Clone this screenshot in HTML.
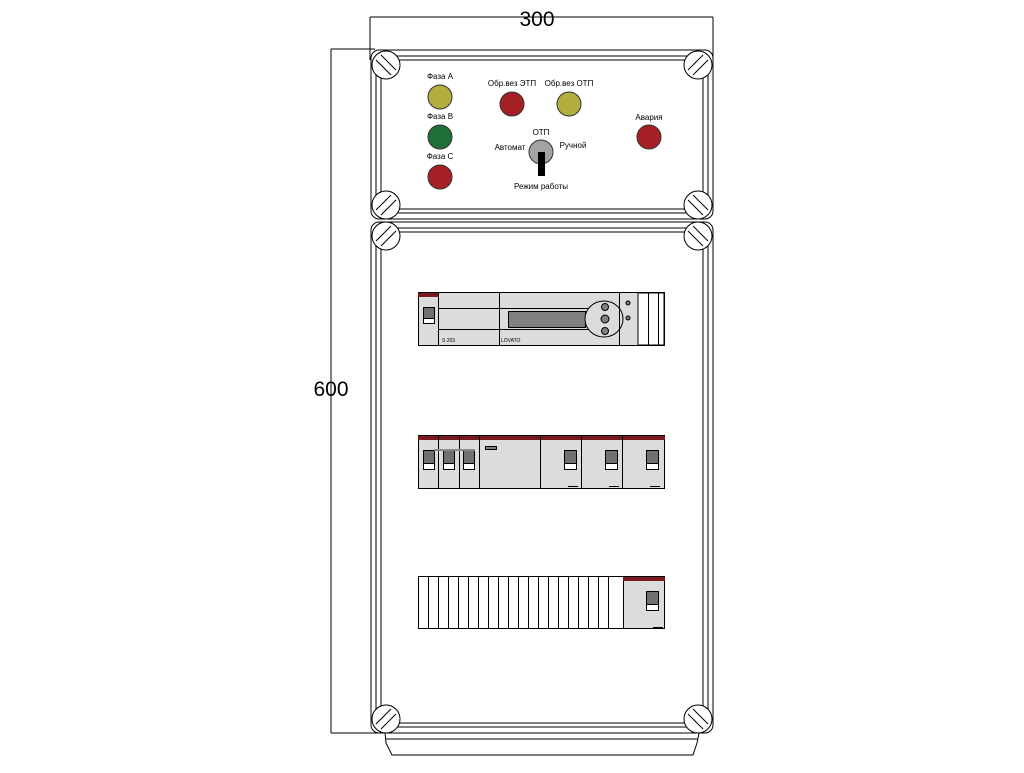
<!DOCTYPE html>
<html><head><meta charset="utf-8"><style>html,body{margin:0;padding:0;background:#fff}</style></head>
<body>
<svg width="1024" height="768" viewBox="0 0 1024 768" xmlns="http://www.w3.org/2000/svg" font-family="Liberation Sans, sans-serif">
<rect width="1024" height="768" fill="#fff"/>
<g stroke="#000" stroke-width="1" fill="none">
<!-- dimensions -->
<line x1="370" y1="17" x2="713" y2="17"/>
<line x1="370" y1="17" x2="370" y2="60"/>
<line x1="713" y1="17" x2="713" y2="60"/>
<line x1="331" y1="49" x2="375" y2="49"/>
<line x1="331" y1="49" x2="331" y2="733"/>
<line x1="331" y1="733" x2="385" y2="733"/>
<!-- top panel -->
<rect x="371" y="50" width="342" height="169" rx="8"/>
<rect x="376" y="56" width="332" height="157" rx="6"/>
<rect x="381" y="60" width="322" height="149" rx="4"/>
<!-- bottom panel -->
<rect x="371" y="222" width="342" height="511" rx="8"/>
<rect x="376" y="228" width="332" height="499" rx="6"/>
<rect x="381" y="232" width="322" height="491" rx="4"/>
<!-- base -->
<path d="M385 733 L386 743 L392 755 L693 755 L697 743 L699 733"/>
<line x1="386" y1="739" x2="698" y2="739"/>
</g>
<!-- screws -->
<g stroke="#000" stroke-width="1" fill="#fff">
<g transform="translate(386,65)"><circle r="14"/><line x1="-10" y1="-5" x2="5" y2="10"/><line x1="-5" y1="-10" x2="10" y2="5"/></g>
<g transform="translate(698,65)"><circle r="14"/><line x1="-10" y1="5" x2="5" y2="-10"/><line x1="-5" y1="10" x2="10" y2="-5"/></g>
<g transform="translate(386,205)"><circle r="14"/><line x1="-10" y1="5" x2="5" y2="-10"/><line x1="-5" y1="10" x2="10" y2="-5"/></g>
<g transform="translate(698,205)"><circle r="14"/><line x1="-10" y1="-5" x2="5" y2="10"/><line x1="-5" y1="-10" x2="10" y2="5"/></g>
<g transform="translate(386,236)"><circle r="14"/><line x1="-10" y1="5" x2="5" y2="-10"/><line x1="-5" y1="10" x2="10" y2="-5"/></g>
<g transform="translate(698,236)"><circle r="14"/><line x1="-10" y1="-5" x2="5" y2="10"/><line x1="-5" y1="-10" x2="10" y2="5"/></g>
<g transform="translate(386,719)"><circle r="14"/><line x1="-10" y1="5" x2="5" y2="-10"/><line x1="-5" y1="10" x2="10" y2="-5"/></g>
<g transform="translate(698,719)"><circle r="14"/><line x1="-10" y1="-5" x2="5" y2="10"/><line x1="-5" y1="-10" x2="10" y2="5"/></g>
</g>
<!-- labels -->
<text x="537" y="26" font-size="21" text-anchor="middle">300</text>
<text x="331" y="396" font-size="21" text-anchor="middle">600</text>
<g font-size="8" text-anchor="middle" fill="#000">
<text x="440" y="79">Фаза A</text>
<text x="440" y="119">Фаза B</text>
<text x="440" y="159">Фаза C</text>
<text x="512" y="86">Обр.вез ЭТП</text>
<text x="569" y="86">Обр.вез ОТП</text>
<text x="649" y="120">Авария</text>
<text x="541" y="135">ОТП</text>
<text x="510" y="150">Автомат</text>
<text x="573" y="148">Ручной</text>
<text x="541" y="189">Режим работы</text>
</g>
<g stroke="#333" stroke-width="1">
<circle cx="440" cy="97" r="12" fill="#b1ad3f"/>
<circle cx="440" cy="137" r="12" fill="#1e6e36"/>
<circle cx="440" cy="177" r="12" fill="#a61f25"/>
<circle cx="512" cy="104" r="12" fill="#a61f25"/>
<circle cx="569" cy="104" r="12" fill="#b1ad3f"/>
<circle cx="649" cy="137" r="12" fill="#a61f25"/>
<circle cx="541" cy="152" r="12" fill="#a3a3a3"/>
</g>
<rect x="538" y="152" width="7" height="24" fill="#000"/>
<!-- device 1 -->
<g stroke="#000" stroke-width="1">
<rect x="418.5" y="292.5" width="246" height="53" fill="#dcdcdc"/>
<rect x="418" y="293" width="20" height="4" fill="#7a1a1e" stroke="none"/>
<line x1="438.5" y1="293" x2="438.5" y2="345"/>
<line x1="499.5" y1="293" x2="499.5" y2="345"/>
<line x1="438" y1="308.5" x2="590" y2="308.5"/>
<line x1="438" y1="329.5" x2="590" y2="329.5"/>
<rect x="508.5" y="311.5" width="77" height="16" fill="#808080"/>
<ellipse cx="604" cy="319" rx="19" ry="18" fill="#dcdcdc"/>
<line x1="619.5" y1="293" x2="619.5" y2="345"/>
<rect x="638" y="293" width="26" height="52" fill="#fff"/>
<line x1="648.5" y1="293" x2="648.5" y2="345"/>
<line x1="658.5" y1="293" x2="658.5" y2="345"/>
<rect x="423.5" y="307.5" width="11" height="16" fill="#fff"/>
<rect x="423.5" y="307.5" width="11" height="11" fill="#707070"/>
<circle cx="605" cy="307" r="3.5" fill="#808080"/>
<circle cx="605" cy="319" r="4" fill="#808080"/>
<circle cx="605" cy="331" r="3.5" fill="#808080"/>
<circle cx="628" cy="303" r="2" fill="#808080"/>
<circle cx="628" cy="318" r="2" fill="#808080"/>
</g>
<text x="442" y="342" font-size="5">S 203</text>
<text x="501" y="342" font-size="5">LOVATO</text>
<!-- device 2 -->
<g stroke="#000" stroke-width="1">
<rect x="418.5" y="435.5" width="246" height="53" fill="#dcdcdc"/>
<rect x="418" y="436" width="247" height="4" fill="#7a1a1e" stroke="none"/>
<line x1="438.5" y1="436" x2="438.5" y2="488"/>
<line x1="459.5" y1="436" x2="459.5" y2="488"/>
<line x1="479.5" y1="436" x2="479.5" y2="488"/>
<line x1="540.5" y1="436" x2="540.5" y2="488"/>
<line x1="581.5" y1="436" x2="581.5" y2="488"/>
<line x1="622.5" y1="436" x2="622.5" y2="488"/>
<rect x="485.5" y="446.5" width="11" height="3" fill="#808080"/>
<rect x="423.5" y="450.5" width="11" height="19" fill="#fff"/><rect x="423.5" y="450.5" width="11" height="13" fill="#707070"/>
<rect x="443.5" y="450.5" width="11" height="19" fill="#fff"/><rect x="443.5" y="450.5" width="11" height="13" fill="#707070"/>
<rect x="463.5" y="450.5" width="11" height="19" fill="#fff"/><rect x="463.5" y="450.5" width="11" height="13" fill="#707070"/>
<rect x="564.5" y="450.5" width="12" height="19" fill="#fff"/><rect x="564.5" y="450.5" width="12" height="13" fill="#707070"/>
<rect x="605.5" y="450.5" width="12" height="19" fill="#fff"/><rect x="605.5" y="450.5" width="12" height="13" fill="#707070"/>
<rect x="646.5" y="450.5" width="12" height="19" fill="#fff"/><rect x="646.5" y="450.5" width="12" height="13" fill="#707070"/>
<line x1="568" y1="486.5" x2="578" y2="486.5"/>
<line x1="609" y1="486.5" x2="619" y2="486.5"/>
<line x1="650" y1="486.5" x2="660" y2="486.5"/>
</g>
<line x1="434" y1="450" x2="475" y2="450" stroke="#888" stroke-width="2"/>
<!-- device 3 -->
<g stroke="#000" stroke-width="1">
<rect x="418.5" y="576.5" width="246" height="52" fill="#fff"/>
<rect x="623.5" y="576.5" width="41" height="52" fill="#dcdcdc"/>
<rect x="623" y="577" width="42" height="4" fill="#7a1a1e" stroke="none"/>
<path d="M428.5 577V628M438.5 577V628M448.5 577V628M458.5 577V628M468.5 577V628M478.5 577V628M488.5 577V628M498.5 577V628M508.5 577V628M518.5 577V628M528.5 577V628M538.5 577V628M548.5 577V628M558.5 577V628M568.5 577V628M578.5 577V628M588.5 577V628M598.5 577V628M608.5 577V628"/>
<rect x="646.5" y="591.5" width="12" height="19" fill="#fff"/><rect x="646.5" y="591.5" width="12" height="13" fill="#707070"/>
<line x1="653" y1="627.5" x2="663" y2="627.5"/>
</g>
</svg>
</body></html>
